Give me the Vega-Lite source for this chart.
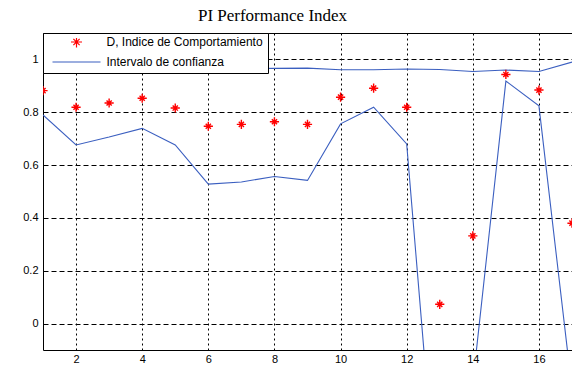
{
  "$schema": "https://vega.github.io/schema/vega-lite/v6.json",
  "width": 529,
  "height": 317,
  "autosize": {"type": "none"},
  "padding": {"left": 43, "top": 33, "right": 0, "bottom": 25},
  "background": "white",
  "title": {"text": "PI Performance Index", "font": "Liberation Serif", "fontSize": 17, "fontWeight": "normal", "color": "black", "offset": 8, "anchor": "middle", "dx": -35},
  "config": {
    "view": {"stroke": "black", "strokeWidth": 1},
    "axis": {"labelFont": "Liberation Sans", "labelFontSize": 11, "labelColor": "black", "ticks": false, "domain": false, "gridColor": "black", "gridOpacity": 1, "gridWidth": 1, "title": null}
  },
  "data": {
    "values": [
      {"x": 1, "value": 0.882, "series": "D, Indice de Comportamiento", "bound": "D"},
      {"x": 2, "value": 0.819, "series": "D, Indice de Comportamiento", "bound": "D"},
      {"x": 3, "value": 0.835, "series": "D, Indice de Comportamiento", "bound": "D"},
      {"x": 4, "value": 0.853, "series": "D, Indice de Comportamiento", "bound": "D"},
      {"x": 5, "value": 0.816, "series": "D, Indice de Comportamiento", "bound": "D"},
      {"x": 6, "value": 0.747, "series": "D, Indice de Comportamiento", "bound": "D"},
      {"x": 7, "value": 0.754, "series": "D, Indice de Comportamiento", "bound": "D"},
      {"x": 8, "value": 0.764, "series": "D, Indice de Comportamiento", "bound": "D"},
      {"x": 9, "value": 0.754, "series": "D, Indice de Comportamiento", "bound": "D"},
      {"x": 10, "value": 0.857, "series": "D, Indice de Comportamiento", "bound": "D"},
      {"x": 11, "value": 0.891, "series": "D, Indice de Comportamiento", "bound": "D"},
      {"x": 12, "value": 0.819, "series": "D, Indice de Comportamiento", "bound": "D"},
      {"x": 13, "value": 0.073, "series": "D, Indice de Comportamiento", "bound": "D"},
      {"x": 14, "value": 0.332, "series": "D, Indice de Comportamiento", "bound": "D"},
      {"x": 15, "value": 0.943, "series": "D, Indice de Comportamiento", "bound": "D"},
      {"x": 16, "value": 0.884, "series": "D, Indice de Comportamiento", "bound": "D"},
      {"x": 17, "value": 0.38, "series": "D, Indice de Comportamiento", "bound": "D"},
      {"x": 1, "value": 0.963, "series": "Intervalo de confianza", "bound": "upper"},
      {"x": 2, "value": 0.963, "series": "Intervalo de confianza", "bound": "upper"},
      {"x": 3, "value": 0.963, "series": "Intervalo de confianza", "bound": "upper"},
      {"x": 4, "value": 0.964, "series": "Intervalo de confianza", "bound": "upper"},
      {"x": 5, "value": 0.964, "series": "Intervalo de confianza", "bound": "upper"},
      {"x": 6, "value": 0.964, "series": "Intervalo de confianza", "bound": "upper"},
      {"x": 7, "value": 0.965, "series": "Intervalo de confianza", "bound": "upper"},
      {"x": 8, "value": 0.966, "series": "Intervalo de confianza", "bound": "upper"},
      {"x": 9, "value": 0.967, "series": "Intervalo de confianza", "bound": "upper"},
      {"x": 10, "value": 0.961, "series": "Intervalo de confianza", "bound": "upper"},
      {"x": 11, "value": 0.961, "series": "Intervalo de confianza", "bound": "upper"},
      {"x": 12, "value": 0.964, "series": "Intervalo de confianza", "bound": "upper"},
      {"x": 13, "value": 0.962, "series": "Intervalo de confianza", "bound": "upper"},
      {"x": 14, "value": 0.954, "series": "Intervalo de confianza", "bound": "upper"},
      {"x": 15, "value": 0.96, "series": "Intervalo de confianza", "bound": "upper"},
      {"x": 16, "value": 0.954, "series": "Intervalo de confianza", "bound": "upper"},
      {"x": 17, "value": 0.99, "series": "Intervalo de confianza", "bound": "upper"},
      {"x": 1, "value": 0.79, "series": "Intervalo de confianza", "bound": "lower"},
      {"x": 2, "value": 0.676, "series": "Intervalo de confianza", "bound": "lower"},
      {"x": 3, "value": 0.706, "series": "Intervalo de confianza", "bound": "lower"},
      {"x": 4, "value": 0.739, "series": "Intervalo de confianza", "bound": "lower"},
      {"x": 5, "value": 0.676, "series": "Intervalo de confianza", "bound": "lower"},
      {"x": 6, "value": 0.528, "series": "Intervalo de confianza", "bound": "lower"},
      {"x": 7, "value": 0.536, "series": "Intervalo de confianza", "bound": "lower"},
      {"x": 8, "value": 0.557, "series": "Intervalo de confianza", "bound": "lower"},
      {"x": 9, "value": 0.542, "series": "Intervalo de confianza", "bound": "lower"},
      {"x": 10, "value": 0.756, "series": "Intervalo de confianza", "bound": "lower"},
      {"x": 11, "value": 0.819, "series": "Intervalo de confianza", "bound": "lower"},
      {"x": 12, "value": 0.68, "series": "Intervalo de confianza", "bound": "lower"},
      {"x": 13, "value": -0.82, "series": "Intervalo de confianza", "bound": "lower"},
      {"x": 14, "value": -0.226, "series": "Intervalo de confianza", "bound": "lower"},
      {"x": 15, "value": 0.918, "series": "Intervalo de confianza", "bound": "lower"},
      {"x": 16, "value": 0.824, "series": "Intervalo de confianza", "bound": "lower"},
      {"x": 17, "value": -0.25, "series": "Intervalo de confianza", "bound": "lower"}
    ]
  },
  "layer": [
    {
      "transform": [{"filter": "datum.series === 'Intervalo de confianza'"}],
      "mark": {"type": "line", "clip": true, "strokeWidth": 1.1},
      "encoding": {
        "x": {"field": "x", "type": "quantitative", "scale": {"domain": [1, 17], "nice": false, "zero": false}, "axis": {"values": [2, 4, 6, 8, 10, 12, 14, 16], "gridDash": [2, 3], "labelPadding": 3}},
        "y": {"field": "value", "type": "quantitative", "scale": {"domain": [-0.1, 1.1], "nice": false, "zero": false}, "axis": {"values": [0, 0.2, 0.4, 0.6, 0.8, 1], "format": "~g", "gridDash": [5, 3], "labelPadding": 5}},
        "color": {"field": "series", "type": "nominal", "scale": {"domain": ["D, Indice de Comportamiento", "Intervalo de confianza"], "range": ["#ff0000", "#3b5fc0"]}},
        "detail": {"field": "bound"}
      }
    },
    {
      "transform": [{"filter": "datum.series !== 'Intervalo de confianza'"}],
      "mark": {"type": "point", "filled": false, "size": 1600, "strokeWidth": 1.4, "opacity": 1, "clip": true},
      "encoding": {
        "x": {"field": "x", "type": "quantitative"},
        "y": {"field": "value", "type": "quantitative"},
        "color": {"field": "series", "type": "nominal", "legend": {"orient": "none", "legendX": 0, "legendY": 0, "title": null, "fillColor": "white", "strokeColor": "black", "padding": 5, "symbolSize": 2304, "clipHeight": 8, "rowPadding": 8, "symbolOffset": 3.5, "labelOffset": 5, "labelFont": "Liberation Sans", "labelFontSize": 12, "labelColor": "black", "symbolStrokeWidth": 1.2, "cornerRadius": 0}},
        "shape": {"field": "series", "type": "nominal", "scale": {"domain": ["D, Indice de Comportamiento", "Intervalo de confianza"], "range": ["M-0.23,0L0.23,0M0,-0.23L0,0.23M-0.13,-0.13L0.13,0.13M-0.13,0.13L0.13,-0.13", "M-1,0L1,0"]}, "legend": {"orient": "none", "legendX": 0, "legendY": 0, "title": null, "fillColor": "white", "strokeColor": "black", "padding": 5, "symbolSize": 2304, "clipHeight": 8, "rowPadding": 8, "symbolOffset": 3.5, "labelOffset": 5, "labelFont": "Liberation Sans", "labelFontSize": 12, "labelColor": "black", "symbolStrokeWidth": 1.2, "cornerRadius": 0}}
      }
    }
  ]
}
